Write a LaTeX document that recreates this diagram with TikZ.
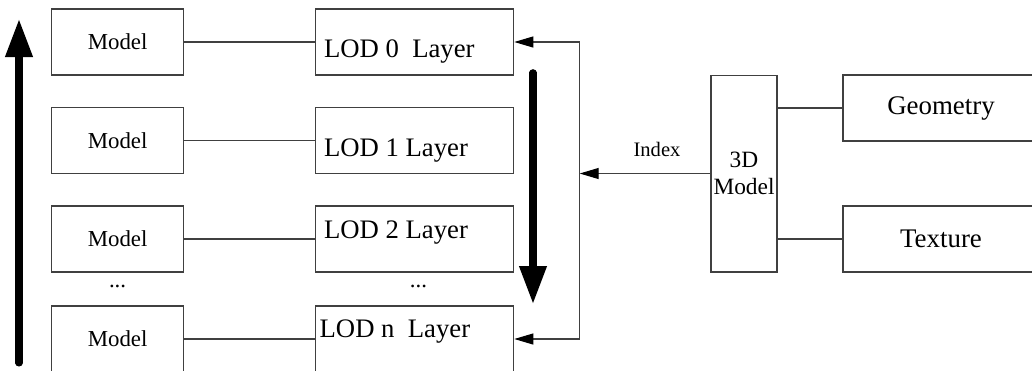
\documentclass[tikz,border=0pt]{standalone}
\usepackage{fontspec}
\setmainfont{Liberation Serif}
\usetikzlibrary{calc}
\usetikzlibrary{arrows.meta}

\begin{document}
\begin{tikzpicture}[x=0.02cm, y=-0.02cm,
		box/.style={draw=black!75, line width=0.6pt, rectangle, inner sep=0pt},
		link/.style={draw=black!75, line width=0.6pt},
		tip/.style={-{Triangle[length=0.38cm, width=0.22cm, black]}},
		bigarrow/.style={line width=4pt, line cap=round, -{Triangle[length=0.76cm, width=0.52cm]}}]
	\useasboundingbox (0,0) rectangle (1032,370);
	\clip (0,0) rectangle (1032,370);
	% model and layer boxes
	\foreach \i/\y in {0/42, 1/140.5, 2/239, 3/339}
	{
		\node[box, minimum width=2.64cm, minimum height=1.32cm, font=\fontsize{13}{15}\selectfont] (M\i) at (117.6,\y) {Model};
		\node[box, minimum width=3.96cm, minimum height=1.32cm] (L\i) at (414.8,\y) {};
		\draw[link] (M\i) -- (L\i);
	}
	\node[anchor=base west, inner sep=0pt, font=\fontsize{15.2}{18}\selectfont] (t0) at (323.7,57.3) {LOD 0\ \ Layer};
	\node[anchor=base west, inner sep=0pt, font=\fontsize{15.2}{18}\selectfont] (t1) at (323.7,156) {LOD 1 Layer};
	\node[anchor=base west, inner sep=0pt, font=\fontsize{15.2}{18}\selectfont] (t2) at (323.7,238) {LOD 2 Layer};
	\node[anchor=base west, inner sep=0pt, font=\fontsize{15.2}{18}\selectfont] (t3) at (319.3,337) {LOD n\ \ Layer};
	\node[font=\fontsize{13}{15}\selectfont] (dm) at (117.6,286) {...};
	\node[font=\fontsize{13}{15}\selectfont] (dl) at (418.4,286) {...};

	% 3D model and its parts
	\node[box, minimum width=1.32cm, minimum height=3.94cm, align=center, font=\fontsize{13.3}{15.7}\selectfont] (D) at (744,173.5) {3D\\Model};
	\node[box, minimum width=3.92cm, minimum height=1.32cm, font=\fontsize{15.3}{18}\selectfont] (G) at (941,108) {Geometry};
	\node[box, minimum width=3.92cm, minimum height=1.32cm, font=\fontsize{15.3}{18}\selectfont] (T) at (941,239) {Texture};
	\draw[link] (D.east |- G) -- (G.west);
	\draw[link] (D.east |- T) -- (T.west);

	% index
	\coordinate (J) at (579.7,173.5);
	\draw[link, tip] (D.west) -- (J);
	\node[anchor=base, font=\fontsize{11.7}{14}\selectfont] (idx) at (657,156.7) {Index};
	\draw[link] (J |- L0) -- (J |- L3);
	\draw[link, tip] (J |- L0) -- (L0.east);
	\draw[link, tip] (J |- L3) -- (L3.east);

	% thick arrows
	\coordinate (up1) at (19,363);
	\coordinate (up2) at (19,19);
	\draw[bigarrow] (up1) -- (up2);
	\coordinate (dn1) at (533,72.7);
	\coordinate (dn2) at (533,304);
	\draw[bigarrow] (dn1) -- (dn2);
\end{tikzpicture}
\end{document}
